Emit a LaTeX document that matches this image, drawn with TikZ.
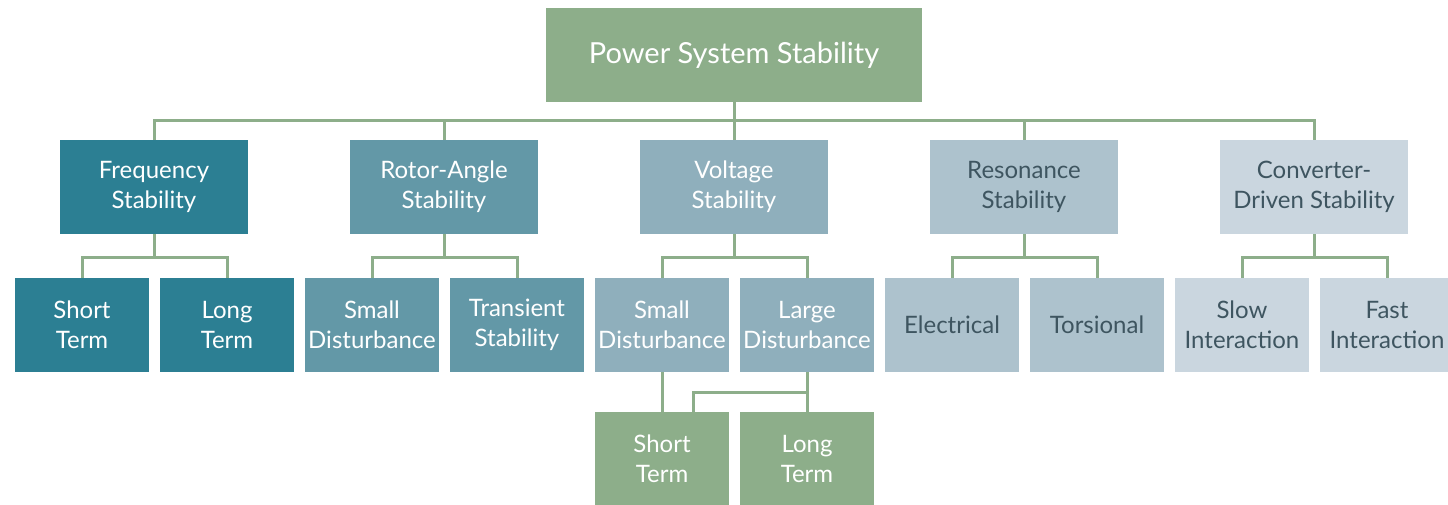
\documentclass[tikz,border=0pt]{standalone}
\usepackage{fontspec}
\setmainfont{Lato}
\definecolor{cgreen}{HTML}{8DAE8A}
\definecolor{cfreq}{HTML}{2C7F93}
\definecolor{crotor}{HTML}{6398A7}
\definecolor{cvolt}{HTML}{8FAFBC}
\definecolor{creson}{HTML}{ADC2CD}
\definecolor{cconv}{HTML}{CAD6DF}
\definecolor{cdark}{HTML}{3E5560}
\begin{document}
\begin{tikzpicture}[x=1pt,y=-1pt,
  box/.style={minimum width=134pt, minimum height=94pt, inner sep=0pt, align=center,
    font=\fontsize{24}{30}\selectfont, text=white},
  wide/.style={box, minimum width=188pt},
  conn/.style={draw=cgreen, line width=3pt}]
\useasboundingbox (0,0) rectangle (1448,504);
% level 1
\node[box, minimum width=376pt, fill=cgreen, font=\fontsize{29}{34}\selectfont] (root) at (734,55) {Power System Stability};
% level 2
\node[wide, fill=cfreq] (freq) at (154,187) {Frequency\\Stability};
\node[wide, fill=crotor] (rotor) at (444,187) {Rotor-Angle\\Stability};
\node[wide, fill=cvolt] (volt) at (734,187) {Voltage\\Stability};
\node[wide, fill=creson, text=cdark] (reson) at (1024,187) {Resonance\\Stability};
\node[wide, fill=cconv, text=cdark] (conv) at (1314,187) {Converter-\\Driven Stability};
% level 3
\node[box, fill=cfreq] (fshort) at (82,325) {Short\\Term};
\node[box, fill=cfreq] (flong) at (227,325) {Long\\Term};
\node[box, fill=crotor] (rsmall) at (372,325) {Small\\Disturbance};
\node[box, fill=crotor] (rtrans) at (517,325) {Transient\\Stability};
\node[box, fill=cvolt] (vsmall) at (662,325) {Small\\Disturbance};
\node[box, fill=cvolt] (vlarge) at (807,325) {Large\\Disturbance};
\node[box, fill=creson, text=cdark] (relec) at (952,325) {Electrical};
\node[box, fill=creson, text=cdark] (rtors) at (1097,325) {Torsional};
\node[box, fill=cconv, text=cdark] (cslow) at (1242,325) {Slow\\Interaction};
\node[box, fill=cconv, text=cdark] (cfast) at (1387,325) {Fast\\Interaction};
% level 4
\node[box, fill=cgreen] (vshort) at (662,459) {Short\\Term};
\node[box, fill=cgreen] (vlong) at (807,459) {Long\\Term};
% connectors level 1-2
\draw[conn] (root.south) -- (volt.north);
\coordinate (bus) at ([yshift=-18pt]root.south);
\draw[conn] (freq.north) |- (bus) -| (conv.north);
\draw[conn] (rotor.north) -- (rotor.north |- bus);
\draw[conn] (reson.north) -- (reson.north |- bus);
% level 2-3
\foreach \p/\a/\b in {freq/fshort/flong, rotor/rsmall/rtrans, volt/vsmall/vlarge, reson/relec/rtors, conv/cslow/cfast}{
  \draw[conn] (\p.south) -- ++(0,23) coordinate (j\p);
  \draw[conn] (\a.north) |- (j\p) -| (\b.north);
}
% level 3-4
\draw[conn] (vsmall.south) -- (vshort.north);
\draw[conn] (vlarge.south) -- (vlong.north);
\coordinate (jl) at ([yshift=-20pt]vlarge.south);
\draw[conn] (jl) -| ([xshift=31pt]vshort.north);
\end{tikzpicture}
\end{document}
